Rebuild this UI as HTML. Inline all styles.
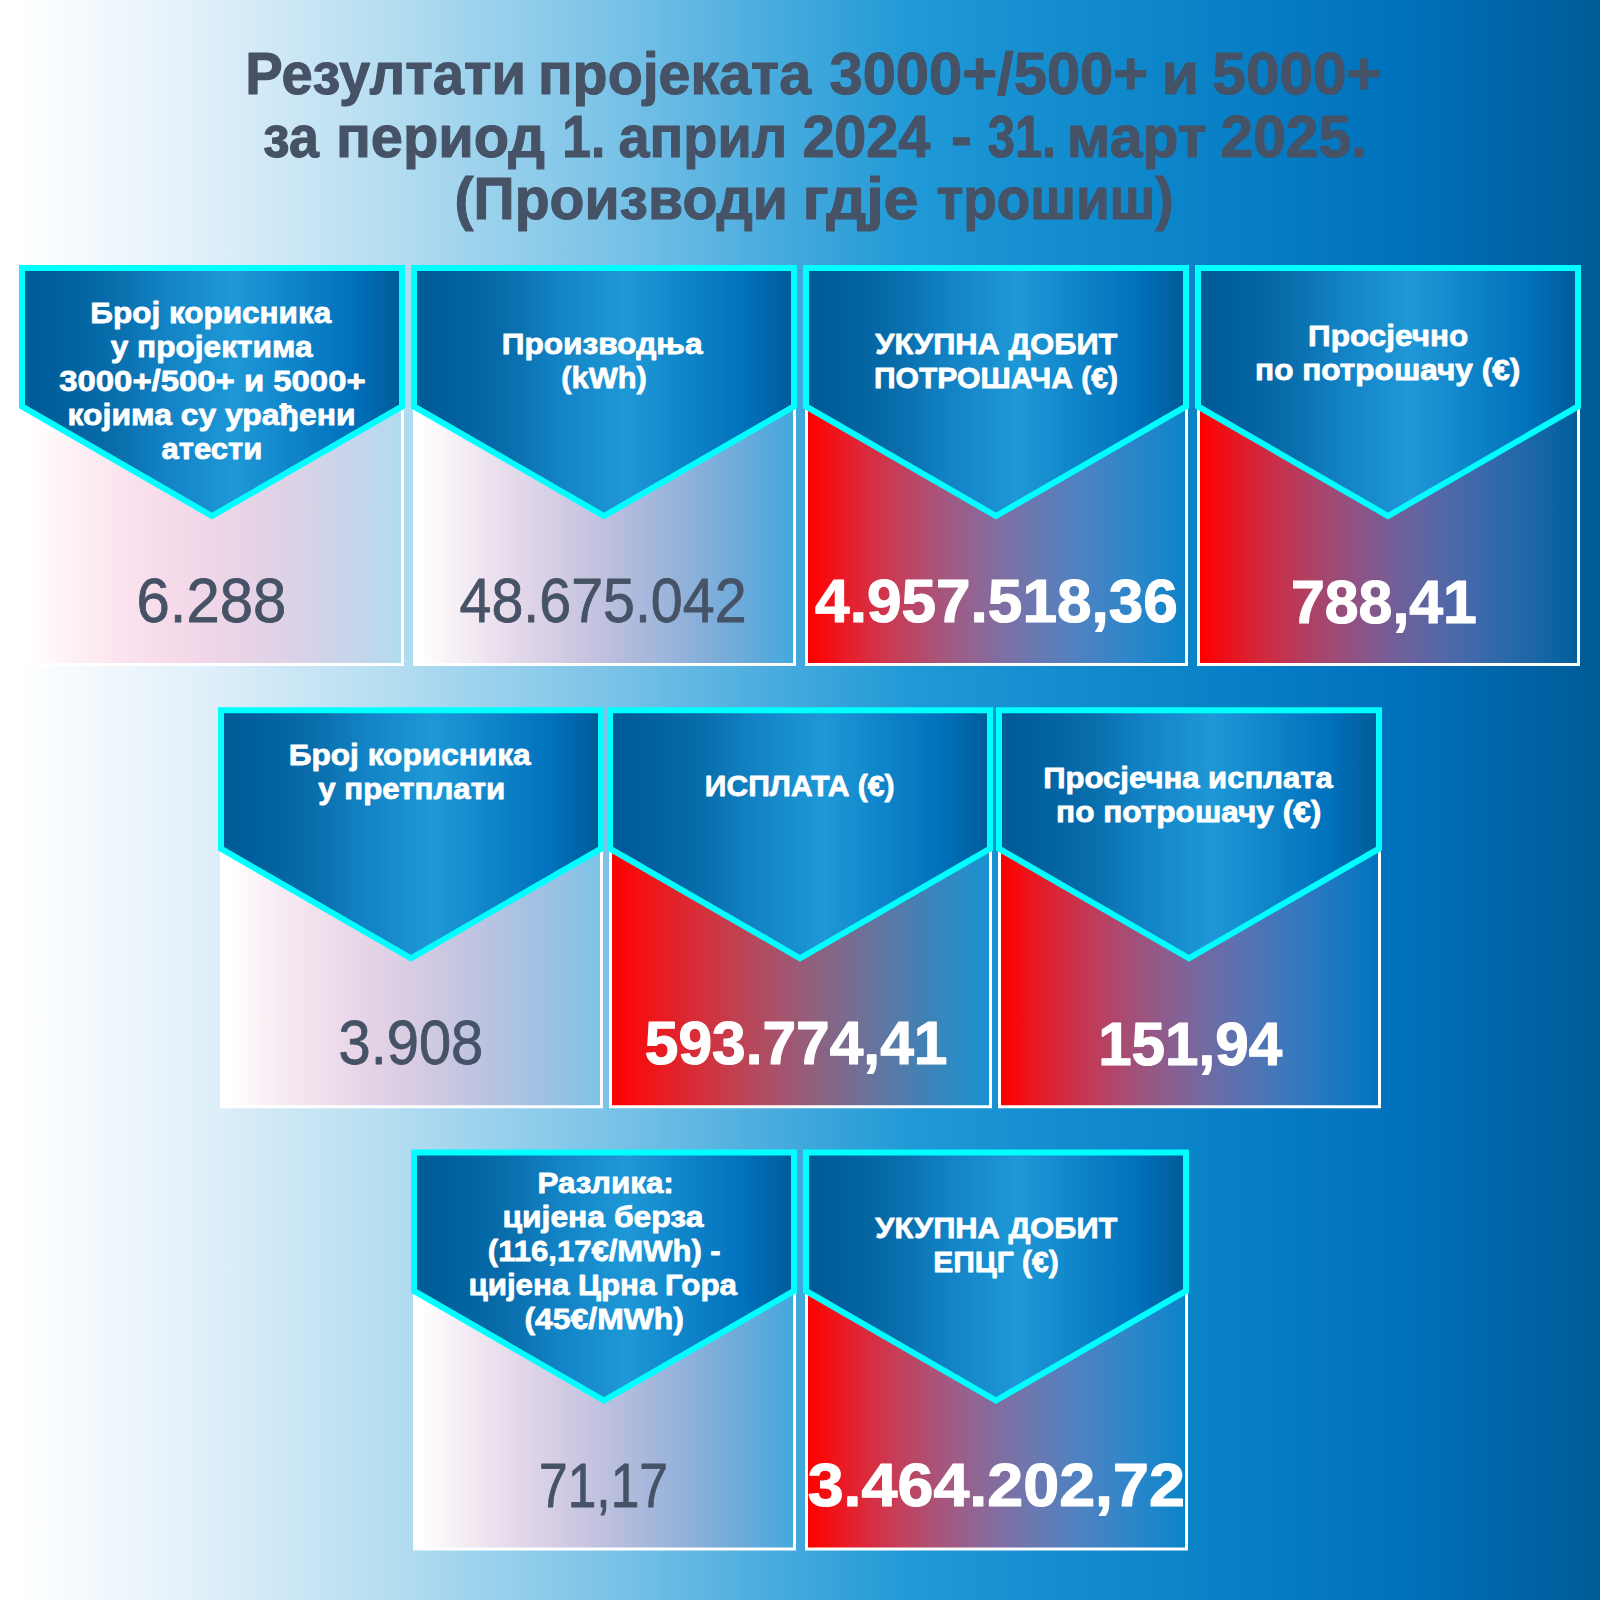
<!DOCTYPE html>
<html lang="sr"><head><meta charset="utf-8"><title>Резултати пројеката</title>
<style>html,body{margin:0;padding:0;background:#fff}body{width:1600px;height:1600px;overflow:hidden}svg{display:block}text{font-family:"Liberation Sans",sans-serif;white-space:pre}</style></head><body>
<svg width="1600" height="1600" viewBox="0 0 1600 1600">
<defs>
<linearGradient id="bg" x1="0" y1="0" x2="1" y2="0"><stop offset="0%" stop-color="#ffffff"/><stop offset="1%" stop-color="#ffffff"/><stop offset="12.5%" stop-color="#e1f0fa"/><stop offset="25%" stop-color="#b2dcf0"/><stop offset="37.5%" stop-color="#7dc4e8"/><stop offset="50%" stop-color="#41a8dc"/><stop offset="57.5%" stop-color="#1e98d6"/><stop offset="75%" stop-color="#0a82c8"/><stop offset="87.5%" stop-color="#0071bc"/><stop offset="100%" stop-color="#005b97"/></linearGradient>
<linearGradient id="pent" x1="0" y1="0" x2="1" y2="0"><stop offset="0%" stop-color="#005b97"/><stop offset="8%" stop-color="#005e9c"/><stop offset="25%" stop-color="#096eac"/><stop offset="37.5%" stop-color="#1282c4"/><stop offset="56%" stop-color="#1e98d6"/><stop offset="87%" stop-color="#0071bc"/><stop offset="100%" stop-color="#005b97"/></linearGradient>
<linearGradient id="cg" x1="0" y1="0" x2="1" y2="0"><stop offset="0%" stop-color="#ffffff" stop-opacity="1"/><stop offset="1.5%" stop-color="#ffffff" stop-opacity="1"/><stop offset="100%" stop-color="#ff7bac" stop-opacity="0"/></linearGradient>
<linearGradient id="cr" x1="0" y1="0" x2="1" y2="0"><stop offset="0%" stop-color="#ff0000" stop-opacity="1"/><stop offset="1%" stop-color="#ff0000" stop-opacity="1"/><stop offset="100%" stop-color="#d791dc" stop-opacity="0"/></linearGradient>
<linearGradient id="cq" x1="0" y1="0" x2="1" y2="0"><stop offset="0%" stop-color="#ff0000" stop-opacity="1"/><stop offset="1%" stop-color="#ff0000" stop-opacity="1"/><stop offset="100%" stop-color="#df2028" stop-opacity="0"/></linearGradient>
</defs>
<rect width="1600" height="1600" fill="url(#bg)"/>
<rect x="22.50" y="268.50" width="380" height="396.00" fill="url(#cg)" stroke="#fff" stroke-width="3"/>
<polygon points="22.00,268.00 402.00,268.00 402.00,406.40 212.00,516.00 22.00,406.40" fill="url(#pent)" stroke="#00ffff" stroke-width="6" stroke-linejoin="miter"/>
<rect x="414.50" y="268.50" width="380" height="396.00" fill="url(#cg)" stroke="#fff" stroke-width="3"/>
<polygon points="414.00,268.00 794.00,268.00 794.00,406.40 604.00,516.00 414.00,406.40" fill="url(#pent)" stroke="#00ffff" stroke-width="6" stroke-linejoin="miter"/>
<rect x="806.50" y="268.50" width="380" height="396.00" fill="url(#cr)" stroke="#fff" stroke-width="3"/>
<polygon points="806.00,268.00 1186.00,268.00 1186.00,406.40 996.00,516.00 806.00,406.40" fill="url(#pent)" stroke="#00ffff" stroke-width="6" stroke-linejoin="miter"/>
<rect x="1198.50" y="268.50" width="380" height="396.00" fill="url(#cr)" stroke="#fff" stroke-width="3"/>
<polygon points="1198.00,268.00 1578.00,268.00 1578.00,406.40 1388.00,516.00 1198.00,406.40" fill="url(#pent)" stroke="#00ffff" stroke-width="6" stroke-linejoin="miter"/>
<rect x="221.50" y="710.75" width="380" height="396.00" fill="url(#cg)" stroke="#fff" stroke-width="3"/>
<polygon points="221.00,710.25 601.00,710.25 601.00,848.65 411.00,958.25 221.00,848.65" fill="url(#pent)" stroke="#00ffff" stroke-width="6" stroke-linejoin="miter"/>
<rect x="610.50" y="710.75" width="380" height="396.00" fill="url(#cq)" stroke="#fff" stroke-width="3"/>
<polygon points="610.00,710.25 990.00,710.25 990.00,848.65 800.00,958.25 610.00,848.65" fill="url(#pent)" stroke="#00ffff" stroke-width="6" stroke-linejoin="miter"/>
<rect x="999.50" y="710.75" width="380" height="396.00" fill="url(#cr)" stroke="#fff" stroke-width="3"/>
<polygon points="999.00,710.25 1379.00,710.25 1379.00,848.65 1189.00,958.25 999.00,848.65" fill="url(#pent)" stroke="#00ffff" stroke-width="6" stroke-linejoin="miter"/>
<rect x="414.50" y="1153.00" width="380" height="396.00" fill="url(#cg)" stroke="#fff" stroke-width="3"/>
<polygon points="414.00,1152.50 794.00,1152.50 794.00,1290.90 604.00,1400.50 414.00,1290.90" fill="url(#pent)" stroke="#00ffff" stroke-width="6" stroke-linejoin="miter"/>
<rect x="806.50" y="1153.00" width="380" height="396.00" fill="url(#cr)" stroke="#fff" stroke-width="3"/>
<polygon points="806.00,1152.50 1186.00,1152.50 1186.00,1290.90 996.00,1400.50 806.00,1290.90" fill="url(#pent)" stroke="#00ffff" stroke-width="6" stroke-linejoin="miter"/>
<text x="245.37" y="94.45" font-size="59.3" font-weight="bold" fill="#465266" stroke="#465266" stroke-width="1.1" stroke-linejoin="round" textLength="280.53" lengthAdjust="spacingAndGlyphs">Резултати</text>
<text x="537.96" y="94.45" font-size="59.3" font-weight="bold" fill="#465266" stroke="#465266" stroke-width="1.1" stroke-linejoin="round" textLength="273.13" lengthAdjust="spacingAndGlyphs">пројеката</text>
<text x="829.46" y="94.45" font-size="59.3" font-weight="bold" fill="#465266" stroke="#465266" stroke-width="1.1" stroke-linejoin="round" textLength="318.69" lengthAdjust="spacingAndGlyphs">3000+/500+</text>
<text x="1161.77" y="94.45" font-size="59.3" font-weight="bold" fill="#465266" stroke="#465266" stroke-width="1.1" stroke-linejoin="round" textLength="37.28" lengthAdjust="spacingAndGlyphs">и</text>
<text x="1212.30" y="94.45" font-size="59.3" font-weight="bold" fill="#465266" stroke="#465266" stroke-width="1.1" stroke-linejoin="round" textLength="169.59" lengthAdjust="spacingAndGlyphs">5000+</text>
<text x="262.89" y="157.05" font-size="59.3" font-weight="bold" fill="#465266" stroke="#465266" stroke-width="1.1" stroke-linejoin="round" textLength="55.90" lengthAdjust="spacingAndGlyphs">за</text>
<text x="335.95" y="157.05" font-size="59.3" font-weight="bold" fill="#465266" stroke="#465266" stroke-width="1.1" stroke-linejoin="round" textLength="209.12" lengthAdjust="spacingAndGlyphs">период</text>
<text x="562.35" y="157.05" font-size="59.3" font-weight="bold" fill="#465266" stroke="#465266" stroke-width="1.1" stroke-linejoin="round" textLength="42.81" lengthAdjust="spacingAndGlyphs">1.</text>
<text x="618.50" y="157.05" font-size="59.3" font-weight="bold" fill="#465266" stroke="#465266" stroke-width="1.1" stroke-linejoin="round" textLength="168.71" lengthAdjust="spacingAndGlyphs">април</text>
<text x="802.39" y="157.05" font-size="59.3" font-weight="bold" fill="#465266" stroke="#465266" stroke-width="1.1" stroke-linejoin="round" textLength="128.00" lengthAdjust="spacingAndGlyphs">2024</text>
<text x="951.10" y="157.05" font-size="59.3" font-weight="bold" fill="#465266" stroke="#465266" stroke-width="1.1" stroke-linejoin="round" textLength="20.75" lengthAdjust="spacingAndGlyphs">-</text>
<text x="987.87" y="157.05" font-size="59.3" font-weight="bold" fill="#465266" stroke="#465266" stroke-width="1.1" stroke-linejoin="round" textLength="68.02" lengthAdjust="spacingAndGlyphs">31.</text>
<text x="1066.86" y="157.05" font-size="59.3" font-weight="bold" fill="#465266" stroke="#465266" stroke-width="1.1" stroke-linejoin="round" textLength="139.70" lengthAdjust="spacingAndGlyphs">март</text>
<text x="1220.52" y="157.05" font-size="59.3" font-weight="bold" fill="#465266" stroke="#465266" stroke-width="1.1" stroke-linejoin="round" textLength="146.81" lengthAdjust="spacingAndGlyphs">2025.</text>
<text x="454.58" y="219.45" font-size="59.3" font-weight="bold" fill="#465266" stroke="#465266" stroke-width="1.1" stroke-linejoin="round" textLength="333.38" lengthAdjust="spacingAndGlyphs">(Производи</text>
<text x="802.53" y="219.45" font-size="59.3" font-weight="bold" fill="#465266" stroke="#465266" stroke-width="1.1" stroke-linejoin="round" textLength="116.04" lengthAdjust="spacingAndGlyphs">гдје</text>
<text x="936.40" y="219.45" font-size="59.3" font-weight="bold" fill="#465266" stroke="#465266" stroke-width="1.1" stroke-linejoin="round" textLength="237.15" lengthAdjust="spacingAndGlyphs">трошиш)</text>
<text x="90.34" y="323.10" font-size="30.2" font-weight="bold" fill="#ffffff" stroke="#ffffff" stroke-width="0.8" stroke-linejoin="round" textLength="240.86" lengthAdjust="spacingAndGlyphs">Број корисника</text>
<text x="110.75" y="357.10" font-size="30.2" font-weight="bold" fill="#ffffff" stroke="#ffffff" stroke-width="0.8" stroke-linejoin="round" textLength="201.73" lengthAdjust="spacingAndGlyphs">у пројектима</text>
<text x="59.22" y="391.10" font-size="30.2" font-weight="bold" fill="#ffffff" stroke="#ffffff" stroke-width="0.8" stroke-linejoin="round" textLength="306.44" lengthAdjust="spacingAndGlyphs">3000+/500+ и 5000+</text>
<text x="67.60" y="425.20" font-size="30.2" font-weight="bold" fill="#ffffff" stroke="#ffffff" stroke-width="0.8" stroke-linejoin="round" textLength="287.90" lengthAdjust="spacingAndGlyphs">којима су урађени</text>
<text x="161.62" y="459.30" font-size="30.2" font-weight="bold" fill="#ffffff" stroke="#ffffff" stroke-width="0.8" stroke-linejoin="round" textLength="100.76" lengthAdjust="spacingAndGlyphs">атести</text>
<text x="501.71" y="354.10" font-size="30.2" font-weight="bold" fill="#ffffff" stroke="#ffffff" stroke-width="0.8" stroke-linejoin="round" textLength="200.94" lengthAdjust="spacingAndGlyphs">Производња</text>
<text x="561.35" y="388.35" font-size="30.2" font-weight="bold" fill="#ffffff" stroke="#ffffff" stroke-width="0.8" stroke-linejoin="round" textLength="85.53" lengthAdjust="spacingAndGlyphs">(kWh)</text>
<text x="875.29" y="354.10" font-size="30.2" font-weight="bold" fill="#ffffff" stroke="#ffffff" stroke-width="0.8" stroke-linejoin="round" textLength="242.12" lengthAdjust="spacingAndGlyphs">УКУПНА ДОБИТ</text>
<text x="873.88" y="388.35" font-size="30.2" font-weight="bold" fill="#ffffff" stroke="#ffffff" stroke-width="0.8" stroke-linejoin="round" textLength="244.27" lengthAdjust="spacingAndGlyphs">ПОТРОШАЧА (€)</text>
<text x="1308.07" y="345.85" font-size="30.2" font-weight="bold" fill="#ffffff" stroke="#ffffff" stroke-width="0.8" stroke-linejoin="round" textLength="160.12" lengthAdjust="spacingAndGlyphs">Просјечно</text>
<text x="1255.11" y="380.10" font-size="30.2" font-weight="bold" fill="#ffffff" stroke="#ffffff" stroke-width="0.8" stroke-linejoin="round" textLength="265.21" lengthAdjust="spacingAndGlyphs">по потрошачу (€)</text>
<text x="288.72" y="764.60" font-size="30.2" font-weight="bold" fill="#ffffff" stroke="#ffffff" stroke-width="0.8" stroke-linejoin="round" textLength="241.96" lengthAdjust="spacingAndGlyphs">Број корисника</text>
<text x="318.27" y="798.85" font-size="30.2" font-weight="bold" fill="#ffffff" stroke="#ffffff" stroke-width="0.8" stroke-linejoin="round" textLength="186.90" lengthAdjust="spacingAndGlyphs">у претплати</text>
<text x="704.84" y="796.35" font-size="30.2" font-weight="bold" fill="#ffffff" stroke="#ffffff" stroke-width="0.8" stroke-linejoin="round" textLength="189.72" lengthAdjust="spacingAndGlyphs">ИСПЛАТА (€)</text>
<text x="1043.27" y="787.85" font-size="30.2" font-weight="bold" fill="#ffffff" stroke="#ffffff" stroke-width="0.8" stroke-linejoin="round" textLength="289.38" lengthAdjust="spacingAndGlyphs">Просјечна исплата</text>
<text x="1056.11" y="822.10" font-size="30.2" font-weight="bold" fill="#ffffff" stroke="#ffffff" stroke-width="0.8" stroke-linejoin="round" textLength="265.21" lengthAdjust="spacingAndGlyphs">по потрошачу (€)</text>
<text x="537.46" y="1193.35" font-size="30.2" font-weight="bold" fill="#ffffff" stroke="#ffffff" stroke-width="0.8" stroke-linejoin="round" textLength="136.36" lengthAdjust="spacingAndGlyphs">Разлика:</text>
<text x="502.41" y="1227.30" font-size="30.2" font-weight="bold" fill="#ffffff" stroke="#ffffff" stroke-width="0.8" stroke-linejoin="round" textLength="201.03" lengthAdjust="spacingAndGlyphs">цијена берза</text>
<text x="487.89" y="1261.30" font-size="30.2" font-weight="bold" fill="#ffffff" stroke="#ffffff" stroke-width="0.8" stroke-linejoin="round" textLength="232.83" lengthAdjust="spacingAndGlyphs">(116,17€/MWh) -</text>
<text x="468.43" y="1295.20" font-size="30.2" font-weight="bold" fill="#ffffff" stroke="#ffffff" stroke-width="0.8" stroke-linejoin="round" textLength="268.52" lengthAdjust="spacingAndGlyphs">цијена Црна Гора</text>
<text x="524.44" y="1328.90" font-size="30.2" font-weight="bold" fill="#ffffff" stroke="#ffffff" stroke-width="0.8" stroke-linejoin="round" textLength="159.48" lengthAdjust="spacingAndGlyphs">(45€/MWh)</text>
<text x="875.29" y="1237.60" font-size="30.2" font-weight="bold" fill="#ffffff" stroke="#ffffff" stroke-width="0.8" stroke-linejoin="round" textLength="242.12" lengthAdjust="spacingAndGlyphs">УКУПНА ДОБИТ</text>
<text x="933.18" y="1271.60" font-size="30.2" font-weight="bold" fill="#ffffff" stroke="#ffffff" stroke-width="0.8" stroke-linejoin="round" textLength="125.49" lengthAdjust="spacingAndGlyphs">ЕПЦГ (€)</text>
<text x="136.60" y="622.40" font-size="62.8" font-weight="normal" fill="#465266" stroke="#465266" stroke-width="0.8" stroke-linejoin="round" textLength="149.67" lengthAdjust="spacingAndGlyphs">6.288</text>
<text x="459.55" y="622.30" font-size="62.8" font-weight="normal" fill="#465266" stroke="#465266" stroke-width="0.8" stroke-linejoin="round" textLength="287.01" lengthAdjust="spacingAndGlyphs">48.675.042</text>
<text x="815.09" y="621.90" font-size="62" font-weight="bold" fill="#ffffff" stroke="#ffffff" stroke-width="1.2" stroke-linejoin="round" textLength="362.84" lengthAdjust="spacingAndGlyphs">4.957.518,36</text>
<text x="1290.95" y="623.40" font-size="62" font-weight="bold" fill="#ffffff" stroke="#ffffff" stroke-width="1.2" stroke-linejoin="round" textLength="186.01" lengthAdjust="spacingAndGlyphs">788,41</text>
<text x="338.58" y="1064.40" font-size="62.8" font-weight="normal" fill="#465266" stroke="#465266" stroke-width="0.8" stroke-linejoin="round" textLength="144.70" lengthAdjust="spacingAndGlyphs">3.908</text>
<text x="644.83" y="1064.40" font-size="62" font-weight="bold" fill="#ffffff" stroke="#ffffff" stroke-width="1.2" stroke-linejoin="round" textLength="302.59" lengthAdjust="spacingAndGlyphs">593.774,41</text>
<text x="1098.13" y="1064.90" font-size="62" font-weight="bold" fill="#ffffff" stroke="#ffffff" stroke-width="1.2" stroke-linejoin="round" textLength="184.04" lengthAdjust="spacingAndGlyphs">151,94</text>
<text x="539.04" y="1506.50" font-size="62.8" font-weight="normal" fill="#465266" stroke="#465266" stroke-width="0.8" stroke-linejoin="round" textLength="128.97" lengthAdjust="spacingAndGlyphs">71,17</text>
<text x="807.65" y="1506.40" font-size="62" font-weight="bold" fill="#ffffff" stroke="#ffffff" stroke-width="1.2" stroke-linejoin="round" textLength="377.26" lengthAdjust="spacingAndGlyphs">3.464.202,72</text>
</svg></body></html>
